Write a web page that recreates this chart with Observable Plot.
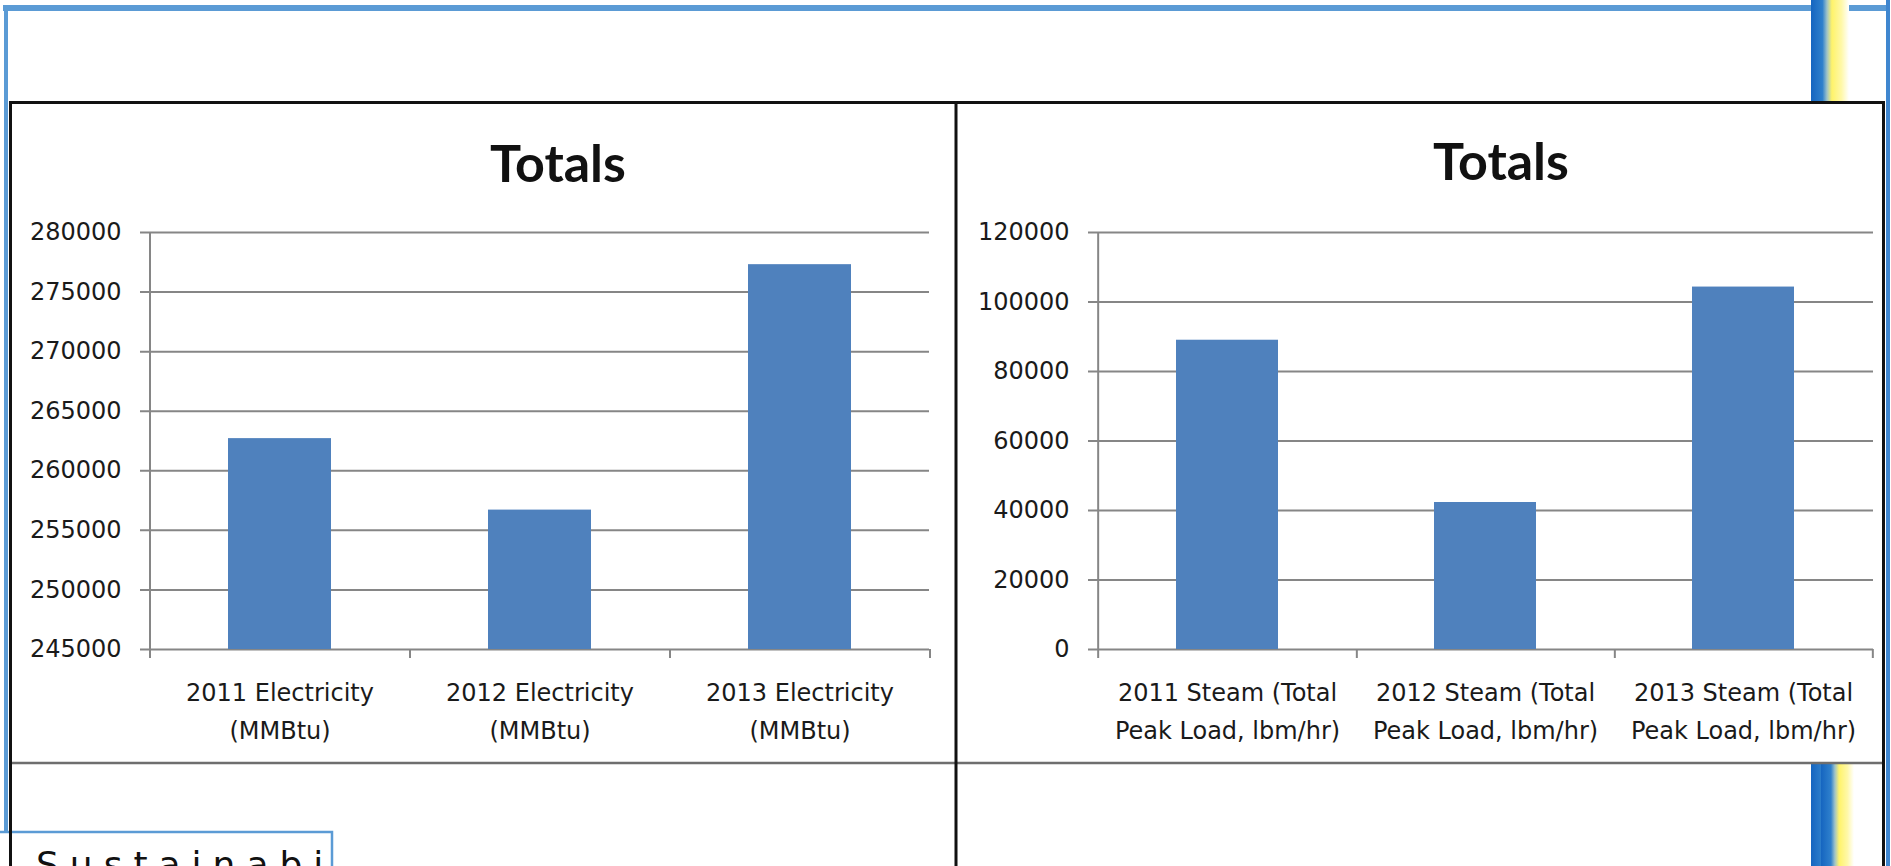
<!DOCTYPE html>
<html><head><meta charset="utf-8">
<script src="https://cdn.jsdelivr.net/npm/d3@7"></script>
<script src="https://cdn.jsdelivr.net/npm/@observablehq/plot@0.6"></script>
<style>
html,body{margin:0;padding:0;background:#fff;}
#page{position:relative;width:1891px;height:866px;overflow:hidden;background:#fff;}
.abs{position:absolute;}
</style></head><body>
<div id="page">
<svg id="decor" class="abs" width="1891" height="866" style="left:0;top:0">
  <defs>
    <linearGradient id="band" x1="0" x2="1" y1="0" y2="0">
      <stop offset="0%" stop-color="#1565c0"/>
      <stop offset="30%" stop-color="#2f80cc"/>
      <stop offset="42%" stop-color="#9fc3c8"/>
      <stop offset="55%" stop-color="#fff36a"/>
      <stop offset="80%" stop-color="#fff8a8"/>
      <stop offset="100%" stop-color="#ffffff"/>
    </linearGradient>
  </defs>
  <rect x="3" y="5" width="1886" height="6" fill="#5b9bd5"/>
  <rect x="4" y="5" width="4" height="827" fill="#5b9bd5"/>
  <rect x="1886" y="0" width="4" height="866" fill="#3f86cf"/>
  <rect x="1811" y="0" width="38" height="866" fill="url(#band)"/>
  <rect x="1821" y="763" width="33" height="103" fill="url(#band)"/>
  <rect x="10" y="102" width="1874" height="661" fill="#ffffff"/>
</svg>
<div id="left" class="abs" style="left:10px;top:102px"></div>
<div id="right" class="abs" style="left:956px;top:102px"></div>
<svg id="overlay" class="abs" width="1891" height="866" style="left:0;top:0">
  <defs><clipPath id="sustclip"><rect x="0" y="833" width="330" height="40"/></clipPath></defs>
  <rect x="-2" y="832" width="334" height="40" fill="#ffffff" stroke="#5b9bd5" stroke-width="2.5"/>
  <text x="36" y="877" clip-path="url(#sustclip)" font-family="'DejaVu Sans', sans-serif" font-size="36" letter-spacing="11" fill="#111">Sustainability</text>
  <line x1="9" x2="1885" y1="102.5" y2="102.5" stroke="#111" stroke-width="3"/>
  <line x1="10" x2="1884" y1="763" y2="763" stroke="#6e6e6e" stroke-width="2.5"/>
  <line x1="10.5" x2="10.5" y1="101" y2="866" stroke="#111" stroke-width="3"/>
  <line x1="956" x2="956" y1="101" y2="866" stroke="#111" stroke-width="3"/>
  <line x1="1883.5" x2="1883.5" y1="101" y2="866" stroke="#111" stroke-width="3"/>
  <text x="558" y="182" text-anchor="middle" font-family="Lato, sans-serif" font-weight="700" font-size="52" fill="#111">Totals</text>
  <text x="1501" y="180" text-anchor="middle" font-family="Lato, sans-serif" font-weight="700" font-size="52" fill="#111">Totals</text>
</svg>
</div>
<script>
// ---- data ----
const elecCategories = ["2011 Electricity", "2012 Electricity", "2013 Electricity"];
const elecLabels = ["2011 Electricity\n(MMBtu)", "2012 Electricity\n(MMBtu)", "2013 Electricity\n(MMBtu)"];
const elecValues = [262700, 256700, 277300];
const elecTicks = [245000, 250000, 255000, 260000, 265000, 270000, 275000, 280000];

const steamCategories = ["2011 Steam", "2012 Steam", "2013 Steam"];
const steamLabels = ["2011 Steam (Total\nPeak Load, lbm/hr)", "2012 Steam (Total\nPeak Load, lbm/hr)", "2013 Steam (Total\nPeak Load, lbm/hr)"];
const steamValues = [89000, 42300, 104300];
const steamTicks = [0, 20000, 40000, 60000, 80000, 100000, 120000];

function makeChart({cats, labels, values, yTicks, width, mL, mR}) {
  const data = cats.map((c, i) => ({cat: c, label: labels[i], value: values[i]}));
  const H = 661, mT = 130, mB = 114;
  const half = (width - mL - mR) / cats.length / 2;
  const plotH = H - mT - mB;
  const yMin = yTicks[0], yMax = yTicks[yTicks.length - 1];
  const grid = "#868686";
  return Plot.plot({
    width, height: H,
    marginLeft: mL, marginRight: mR, marginTop: mT, marginBottom: mB,
    style: {background: "transparent", fontFamily: "'DejaVu Sans', sans-serif", fontSize: "24px", color: "#1a1a1a", overflow: "visible"},
    x: {type: "band", domain: cats, paddingInner: 0.604, paddingOuter: 0.302, axis: null},
    y: {domain: [yMin, yMax], axis: null},
    marks: [
      Plot.ruleY(yTicks, {stroke: grid, strokeWidth: 2, insetLeft: -9}),
      Plot.ruleX([cats[0]], {dx: -half, stroke: grid, strokeWidth: 2, insetBottom: -9}),
      Plot.ruleX(cats, {dx: half, stroke: grid, strokeWidth: 2, insetTop: plotH, insetBottom: -9}),
      Plot.barY(data, {x: "cat", y1: () => yMin, y2: "value", fill: "#4f81bd"}),
      Plot.text(yTicks, {y: d => d, text: d => String(d), frameAnchor: "left", dx: -28, textAnchor: "end", fontSize: 24, fill: "#1a1a1a"}),
      Plot.text(data, {x: "cat", text: "label", frameAnchor: "bottom", lineAnchor: "top", dy: 24, lineHeight: 1.6, fontSize: 24, fill: "#1a1a1a"})
    ]
  });
}

document.getElementById("left").appendChild(makeChart({
  cats: elecCategories, labels: elecLabels, values: elecValues, yTicks: elecTicks,
  width: 946, mL: 139, mR: 27
}));
document.getElementById("right").appendChild(makeChart({
  cats: steamCategories, labels: steamLabels, values: steamValues, yTicks: steamTicks,
  width: 928, mL: 141, mR: 11
}));
</script>
</body></html>
